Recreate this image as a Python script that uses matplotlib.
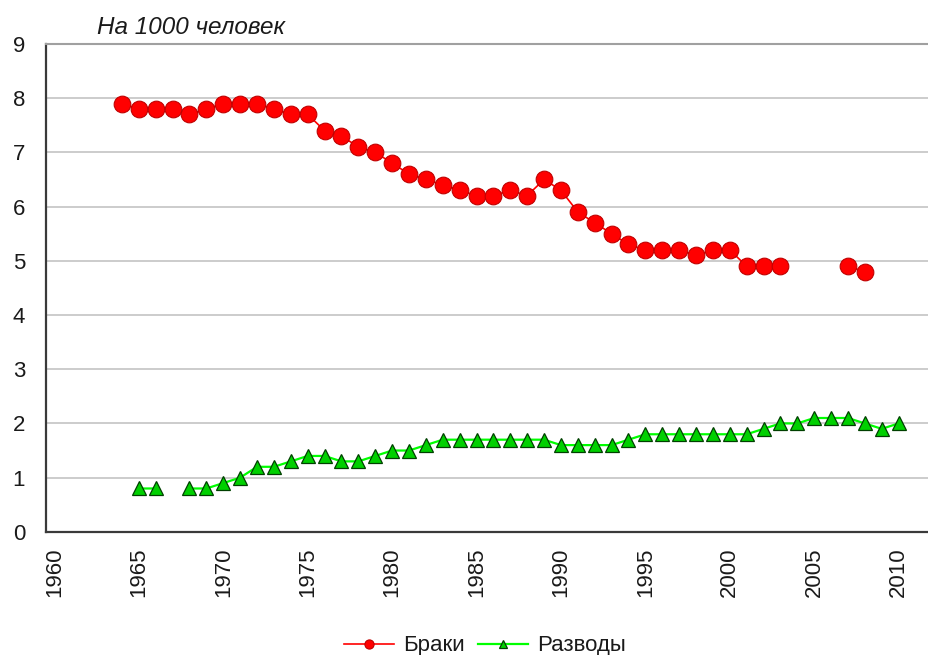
import numpy as np
import matplotlib.pyplot as plt

years = np.arange(1964, 2011)

# Браки, на 1000 человек (nan = нет данных)
marriages = [7.9, 7.8, 7.8, 7.8, 7.7, 7.8, 7.9, 7.9, 7.9, 7.8,
             7.7, 7.7, 7.4, 7.3, 7.1, 7.0, 6.8, 6.6, 6.5, 6.4,
             6.3, 6.2, 6.2, 6.3, 6.2, 6.5, 6.3, 5.9, 5.7, 5.5,
             5.3, 5.2, 5.2, 5.2, 5.1, 5.2, 5.2, 4.9, 4.9, 4.9,
             np.nan, np.nan, np.nan, 4.9, 4.8, np.nan, np.nan]

# Разводы, на 1000 человек
divorces = [np.nan, 0.8, 0.8, np.nan, 0.8, 0.8, 0.9, 1.0, 1.2, 1.2,
            1.3, 1.4, 1.4, 1.3, 1.3, 1.4, 1.5, 1.5, 1.6, 1.7,
            1.7, 1.7, 1.7, 1.7, 1.7, 1.7, 1.6, 1.6, 1.6, 1.6,
            1.7, 1.8, 1.8, 1.8, 1.8, 1.8, 1.8, 1.8, 1.9, 2.0,
            2.0, 2.1, 2.1, 2.1, 2.0, 1.9, 2.0]

x_ticks = [1960, 1965, 1970, 1975, 1980, 1985, 1990, 1995, 2000, 2005, 2010]
y_ticks = list(range(0, 10))

plt.rcParams['font.family'] = ['Liberation Sans', 'DejaVu Sans']
text_color = '#1a1a1a'

fig = plt.figure(figsize=(9.29, 6.55), dpi=100)
ax = fig.add_axes([0.0495, 0.188, 0.9505, 0.745])

ax.plot(years, marriages, color='#ff0000', lw=1.2, marker='o', ms=12,
        mfc='#ff0000', mec='#c00000', mew=0.8, label='Браки', zorder=3)
ax.plot(years, divorces, color='#00ff00', lw=1.6, marker='^', ms=10,
        mfc='#00d000', mec='#004000', mew=0.9, label='Разводы', zorder=3)

ax.set_xlim(1959.5, 2011.8)
ax.set_ylim(0, 9)
ax.set_xticks(x_ticks)
ax.set_yticks(y_ticks)
ax.tick_params(axis='x', length=0, pad=11, labelsize=16, labelrotation=90,
               colors=text_color)
ax.tick_params(axis='y', length=0, pad=15, labelsize=16, colors=text_color)

ax.yaxis.grid(True, color='#c8c8c8', lw=1.3)
ax.set_axisbelow(True)
for side in ['left', 'bottom']:
    ax.spines[side].set_color('#3a3a3a')
    ax.spines[side].set_linewidth(1.6)
ax.spines['top'].set_color('#a0a0a0')
ax.spines['top'].set_linewidth(1.5)
ax.spines['right'].set_visible(False)

fig.text(0.104, 0.958, 'На 1000 человек', fontsize=17.5, style='italic',
         color=text_color, va='center', ha='left')

fig.legend(loc='center', bbox_to_anchor=(0.522, 0.014), ncol=2, frameon=False,
           fontsize=16, markerscale=0.55, handlelength=2.25, columnspacing=0.6,
           handletextpad=0.4, labelcolor=text_color)

fig.savefig('out.png', dpi=100)
